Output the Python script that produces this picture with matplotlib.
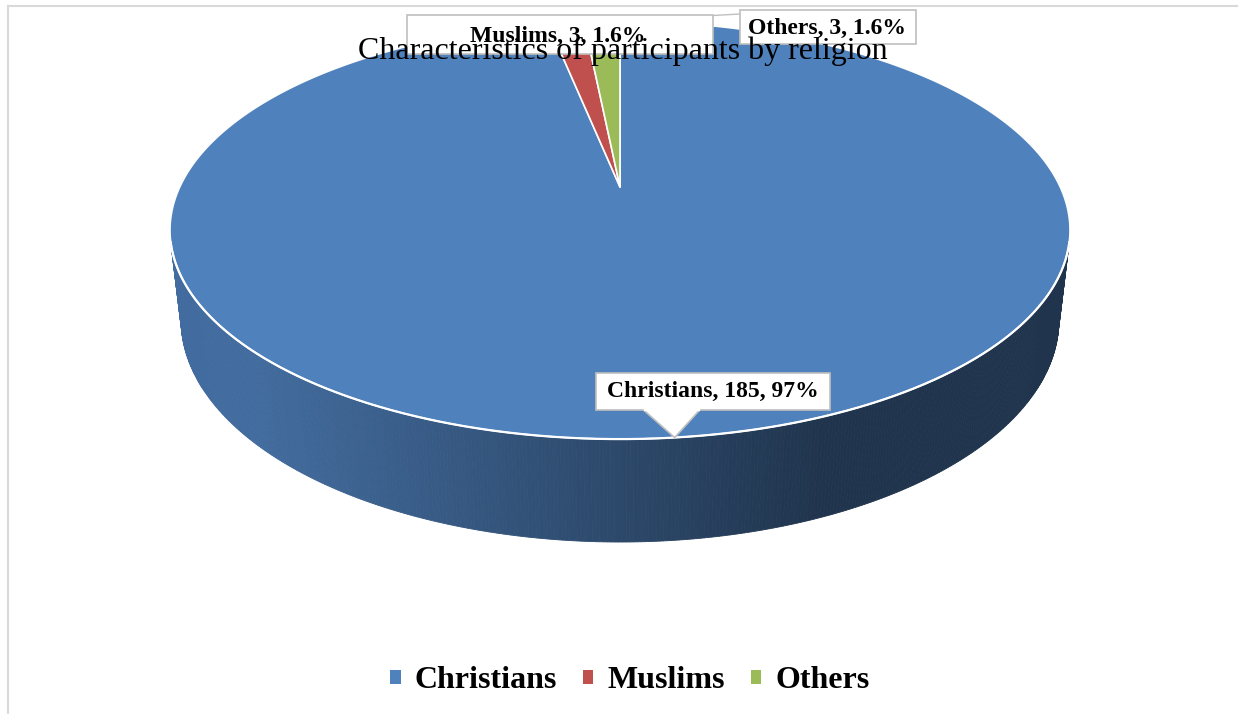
import numpy as np
import matplotlib.pyplot as plt
from matplotlib.patches import Polygon, Rectangle, Patch
from matplotlib.colors import to_rgb

religions = ['Christians', 'Muslims', 'Others']
counts = [185, 3, 3]
percent_text = ['97%', '1.6%', '1.6%']
slice_colors = ['#4F81BD', '#C0504D', '#9BBB59']
title = 'Characteristics of participants by religion'

W, H = 1238, 714
fig = plt.figure(figsize=(W / 100, H / 100), dpi=100)
ax = fig.add_axes([0, 0, 1, 1])
ax.set_xlim(0, W)
ax.set_ylim(H, 0)
ax.axis('off')

serif = 'Liberation Serif'

# simple perspective projection for an excel-like 3d pie
cx, cy = 620, 187
elev = np.radians(27)
dist = 4.3
thick = 0.23


def proj(x, y, z):
    d = dist - (y * np.sin(elev) + z * np.cos(elev))
    return x / d, (y * np.cos(elev) - z * np.sin(elev)) / d


ph = np.linspace(0, 2 * np.pi, 3000)
scale = 450 / proj(np.sin(ph), 0, -np.cos(ph))[0].max()


def to_px(phi, y=0.0):
    x, s = proj(np.sin(phi), y, -np.cos(phi))
    return cx + scale * x, cy - scale * s


fracs = np.array(counts) / sum(counts)
edges = np.concatenate([[0], np.cumsum(fracs)]) * 2 * np.pi

# side walls, darker toward the right
for i in range(len(counts)):
    a0, a1 = edges[i], edges[i + 1]
    n = max(int((a1 - a0) / (2 * np.pi) * 900), 2)
    p = np.linspace(a0, a1, n + 1)
    tx, ty = to_px(p)
    bx, by = to_px(p, -thick)
    base = np.array(to_rgb(slice_colors[i]))
    for j in range(n):
        pm = (p[j] + p[j + 1]) / 2
        if -np.cos(pm) * dist * np.cos(elev) <= 1:
            continue
        t = np.clip(((tx[j] + tx[j + 1]) / 2 - 250) / 570, 0, 1)
        shade = 0.84 - 0.43 * t
        col = np.clip(base * shade, 0, 1)
        ax.add_patch(Polygon([(tx[j], ty[j]), (tx[j + 1], ty[j + 1]),
                              (bx[j + 1], by[j + 1]), (bx[j], by[j])],
                             closed=True, fc=col, ec=col, lw=0.6))

# top faces
for i in range(len(counts)):
    p = np.linspace(edges[i], edges[i + 1], 400)
    tx, ty = to_px(p)
    pts = [(cx, cy)] + list(zip(tx, ty))
    ax.add_patch(Polygon(pts, closed=True, fc=slice_colors[i], ec='white',
                         lw=1.2, joinstyle='round', zorder=3))

# white rim along the front
pf = ph[-np.cos(ph) * dist * np.cos(elev) > 1]
fx, fy = to_px(pf)
ax.plot(fx, fy, color='white', lw=1.6, zorder=4)


def lab(i):
    return f'{religions[i]}, {counts[i]}, {percent_text[i]}'


# Christians callout
mid = (edges[0] + edges[1]) / 2
tipx, tipy = to_px(mid)
bw, bh = 234, 37
bxc, byc = tipx + 38, tipy - 46
ax.add_patch(Polygon([(tipx - 31, byc + bh / 2), (tipx + 25, byc + bh / 2), (tipx, tipy)],
                     closed=True, fc='white', ec='none', zorder=5))
ax.plot([tipx - 31, tipx, tipx + 25], [byc + bh / 2, tipy, byc + bh / 2],
        color='#BFBFBF', lw=1.2, zorder=5)
ax.add_patch(Rectangle((bxc - bw / 2, byc - bh / 2), bw, bh, fc='white',
                       ec='#BFBFBF', lw=1.2, zorder=5))
ax.plot([tipx - 30, tipx + 24], [byc + bh / 2, byc + bh / 2], color='white', lw=1.6, zorder=5)
ax.text(bxc, byc, lab(0), ha='center', va='center', family=serif,
        weight='bold', size=17, zorder=6)

# Muslims and Others labels on top
omid = (edges[2] + edges[3]) / 2
ox, oy = to_px(omid)
ax.plot([740, ox], [14, oy], color='#BFBFBF', lw=1.0, zorder=5)
ax.add_patch(Rectangle((407, 15), 306, 39, fc='white', ec='#BFBFBF', lw=1.2, zorder=5))
ax.text(558, 36, lab(1), ha='center', va='center', family=serif,
        weight='bold', size=17, zorder=6)
ax.add_patch(Rectangle((740, 10), 176, 34, fc='white', ec='#BFBFBF', lw=1.2, zorder=5))
ax.text(827, 28, lab(2), ha='center', va='center', family=serif,
        weight='bold', size=17, zorder=6)

ax.text(623, 59, title, ha='center', va='baseline', family=serif,
        size=23, zorder=10)

# chart frame
ax.plot([8, W], [6, 6], color='#D9D9D9', lw=1.5, zorder=1)
ax.plot([8, 8], [6, H], color='#D9D9D9', lw=1.5, zorder=1)

handles = [Patch(facecolor=c, edgecolor='none') for c in slice_colors]
fig.legend(handles, religions, loc='center', bbox_to_anchor=(630 / W, 1 - 681 / H),
           ncol=3, frameon=False,
           prop=dict(family=serif, weight='bold', size=23),
           handlelength=0.33, handleheight=0.33, handletextpad=0.45,
           columnspacing=0.8)

fig.savefig('out.png', dpi=100)
